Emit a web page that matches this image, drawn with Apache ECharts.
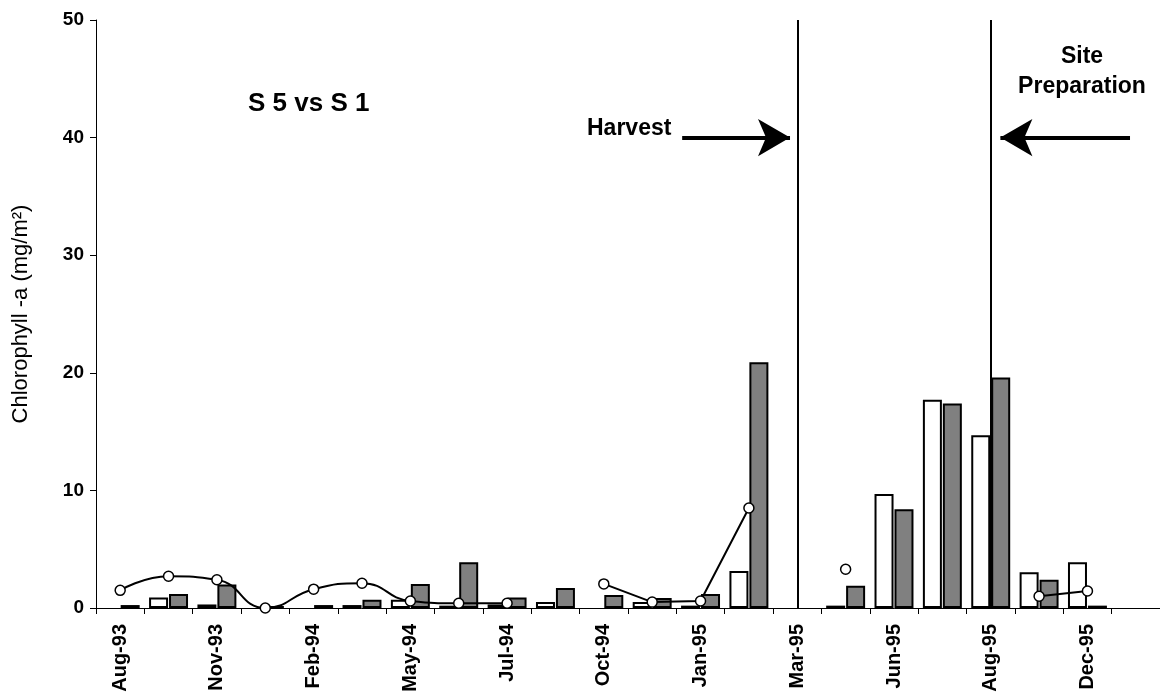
<!DOCTYPE html>
<html>
<head>
<meta charset="utf-8">
<script src="https://cdn.jsdelivr.net/npm/echarts@6/dist/echarts.min.js"></script>
<style>
html,body{margin:0;padding:0;background:#fff;}
#chart{width:1160px;height:698px;}
</style>
</head>
<body>
<div id="chart"></div>
<script>
// Categories (only every other one is labelled on the axis)
const categories = ['Aug-93','Oct-93','Nov-93','Dec-93','Feb-94','Apr-94','May-94','Jun-94','Jul-94','Sep-94','Oct-94','Nov-94','Jan-95','Feb-95','Mar-95','Apr-95','Jun-95','Jul-95','Aug-95','Oct-95','Dec-95','Jan-96'];
// S 5 (white bars)
const s5Values = [null,0.9,0.3,null,null,0.25,0.7,0.2,0.3,0.5,null,0.5,0.2,3.15,null,0.2,9.7,17.7,14.7,3.05,3.9,null];
// S 1 (grey bars)
const s1Values = [0.25,1.2,2.0,0.15,0.25,0.7,2.05,3.9,0.9,1.7,1.1,0.85,1.2,20.9,null,1.9,8.4,17.4,19.6,2.4,0.2,null];
// Line with open markers
const lineValues = [1.5,2.7,2.4,0,1.6,2.1,0.6,0.4,0.4,null,2.05,0.5,0.6,8.5,null,3.3,null,null,null,1.0,1.45,null];
const smoothEnd = 8; // first segment drawn smoothed
const yTicks = {min:0, max:50, interval:10};
const eventLines = ['Mar-95','Aug-95'];

const FONT = 'Arial, "Liberation Sans", sans-serif';
const chart = echarts.init(document.getElementById('chart'), null, {renderer:'canvas'});

const lineA = lineValues.map((v,i)=> i<=smoothEnd ? v : null);
const lineB = lineValues.map((v,i)=> i>smoothEnd ? v : null);

const markerStyle = {color:'#fff', borderColor:'#000', borderWidth:1.5};
const n = categories.length;

chart.setOption({
  animation:false,
  backgroundColor:'#fff',
  grid:{left:96, right:0, top:20, bottom:90, outerBoundsMode:'none', containLabel:false},
  xAxis:[{
    type:'category',
    data:categories,
    boundaryGap:true,
    axisLine:{show:true, onZero:false, lineStyle:{color:'#000', width:1}},
    axisTick:{show:true, interval:0, length:6, lineStyle:{color:'#000'}},
    axisLabel:{interval:1, rotate:90, margin:16, color:'#000', fontFamily:FONT, fontWeight:'bold', fontSize:20},
    splitLine:{show:false}
  },{
    type:'value', min:-0.5, max:n-0.5, show:false,
    axisLine:{onZero:false}
  }],
  yAxis:{
    type:'value', min:yTicks.min, max:yTicks.max, interval:yTicks.interval,
    name:'Chlorophyll -a (mg/m²)', nameLocation:'middle', nameGap:64, nameMoveOverlap:false,
    nameTextStyle:{color:'#000', fontFamily:FONT, fontSize:22},
    axisLine:{show:true, onZero:false, lineStyle:{color:'#000', width:1}},
    axisTick:{show:true, length:6, lineStyle:{color:'#000'}},
    axisLabel:{color:'#000', fontFamily:FONT, fontWeight:'bold', fontSize:19, margin:12},
    splitLine:{show:false}
  },
  series:[
    {name:'S 5', type:'bar', data:s5Values, barWidth:19, barGap:'5%',
     itemStyle:{color:'#fff', borderColor:'#000', borderWidth:2}},
    {name:'S 1', type:'bar', data:s1Values, barWidth:19, barGap:'5%',
     itemStyle:{color:'#808080', borderColor:'#000', borderWidth:2}},
    {name:'ratio', type:'line', data:lineA, smooth:0.5, connectNulls:false,
     symbol:'circle', symbolSize:10, showAllSymbol:true,
     lineStyle:{color:'#000', width:2}, itemStyle:markerStyle, z:5},
    {name:'ratio ', type:'line', data:lineB, smooth:false, connectNulls:false,
     symbol:'circle', symbolSize:10, showAllSymbol:true,
     lineStyle:{color:'#000', width:2}, itemStyle:markerStyle, z:5,
     markLine:{silent:true, symbol:['none','none'], label:{show:false},
       lineStyle:{color:'#000', width:2, type:'solid'},
       data:eventLines.map(c=>({xAxis:c}))}},
    {name:'arrows', type:'scatter', xAxisIndex:1, data:[],
     markLine:{silent:true, label:{show:false},
       lineStyle:{color:'#000', width:4, type:'solid'},
       data:[
         [{coord:[11.62,40], symbol:'none'},{coord:[13.85,40], symbol:'arrow', symbolSize:[28,32]}],
         [{coord:[20.88,40], symbol:'none'},{coord:[18.2,40], symbol:'arrow', symbolSize:[28,32]}]
       ]}}
  ],
  graphic:[
    {type:'text', left:248, top:91, style:{text:'S 5 vs S 1', fill:'#000', font:'bold 26px '+FONT}},
    {type:'text', left:587, top:117, style:{text:'Harvest', fill:'#000', font:'bold 23px '+FONT}},
    {type:'text', x:1082, y:42, style:{text:'Site\nPreparation', fill:'#000', font:'bold 23px '+FONT, align:'center', verticalAlign:'top', lineHeight:30}}
  ]
});
</script>
</body>
</html>
